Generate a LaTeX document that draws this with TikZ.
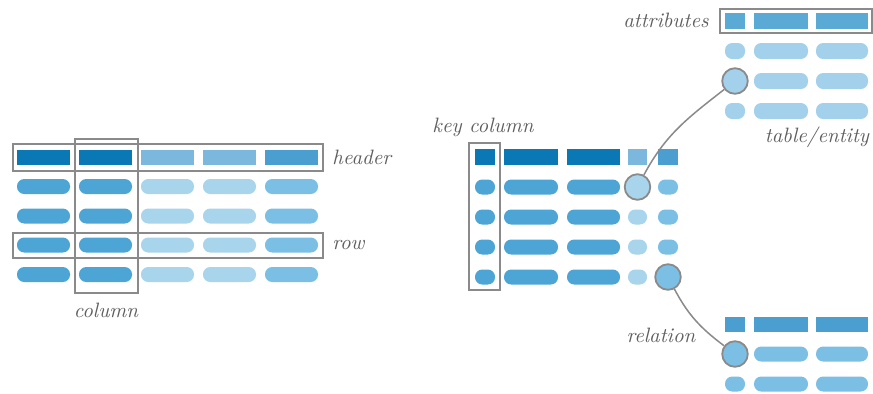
\documentclass[tikz,border=0pt]{standalone}
\definecolor{dkb}{HTML}{0A78B5}
\definecolor{hlt}{HTML}{7CB8DD}
\definecolor{hmd}{HTML}{4A9ED0}
\definecolor{rmd}{HTML}{4DA5D6}
\definecolor{rlt}{HTML}{A9D5EC}
\definecolor{rmt}{HTML}{7BBFE4}
\definecolor{thd}{HTML}{5BA9D5}
\definecolor{tlt}{HTML}{A3D1EC}
\definecolor{boxgray}{HTML}{8A8A8A}
\definecolor{txtgray}{HTML}{5E5E5E}
\begin{document}
\begin{tikzpicture}[x=0.5pt,y=-0.5pt]
\tikzset{
 frame/.style={draw=boxgray, line width=0.9pt},
 lbl/.style={font=\itshape\fontsize{10.4}{12}\selectfont, text=txtgray, inner sep=0pt},
 ring/.style={circle, draw=boxgray, line width=0.9pt, minimum size=12.8pt, inner sep=0pt},
 conn/.style={draw=boxgray, line width=0.75pt},
 pill/.style={rounded corners=3.6pt},
}
\useasboundingbox (0,0) rectangle (873,393);
\fill[white] (0,0) rectangle (873,393);
% left table
\foreach \xa/\xb/\hc/\rc in {17/70/dkb/rmd, 79/132/dkb/rmd, 141/194/hlt/rlt, 203/256/hlt/rlt, 265/318/hmd/rmt} {
  \fill[\hc] (\xa,150) rectangle (\xb,165);
  \foreach \yc in {186.5,216,245,274.5} \fill[\rc, pill] (\xa,\yc-7.5) rectangle (\xb,\yc+7.5);
}
\draw[frame] (13,144) rectangle (323,171);
\draw[frame] (75,139) rectangle (138,293);
\draw[frame] (13,233) rectangle (323,258);
\node[lbl, anchor=west] (hdr) at (332,157) {header};
\node[lbl, anchor=west] (rowl) at (332,245) {row};
\node[lbl] (coll) at (106,310) {column};
% right table
\foreach \xa/\xb/\hc/\rc in {475/495/dkb/rmd, 504/558/dkb/rmd, 567/620/dkb/rmd, 628/647/hlt/rlt, 658/678/hmd/rmt} {
  \fill[\hc] (\xa,149) rectangle (\xb,165);
  \foreach \yc in {187,217,247,277} \fill[\rc, pill] (\xa,\yc-7.5) rectangle (\xb,\yc+7.5);
}
\draw[frame] (469,143) rectangle (500,290);
\node[lbl] (keyl) at (483,127) {key column};
\node[ring, fill=rlt] (c1) at (637.5,187) {};
\node[ring, fill=rmt] (c2) at (668,277) {};
% top-right table
\foreach \xa/\xb in {725/745, 754/808, 816/868} {
  \fill[thd] (\xa,13) rectangle (\xb,29);
  \foreach \yc in {51,81,111} \fill[tlt, pill] (\xa,\yc-8) rectangle (\xb,\yc+8);
}
\draw[frame] (720,9) rectangle (872,33);
\node[ring, fill=tlt] (c3) at (735,81) {};
\node[lbl, anchor=east] (attl) at (709,20) {attributes};
\node[lbl] (tabl) at (817,137) {table/entity};
% bottom-right table
\foreach \xa/\xb in {725/745, 754/808, 816/868} {
  \fill[hmd] (\xa,317) rectangle (\xb,332);
  \foreach \yc in {354,384} \fill[rmt, pill] (\xa,\yc-7.5) rectangle (\xb,\yc+7.5);
}
\node[ring, fill=rmt] (c4) at (735,354) {};
\node[lbl] (rell) at (661,335) {relation};
% connectors
\draw[conn] (c1) to[out=62,in=-142] (c3);
\draw[conn] (c2) to[out=-62,in=143] (c4);
\end{tikzpicture}
\end{document}
